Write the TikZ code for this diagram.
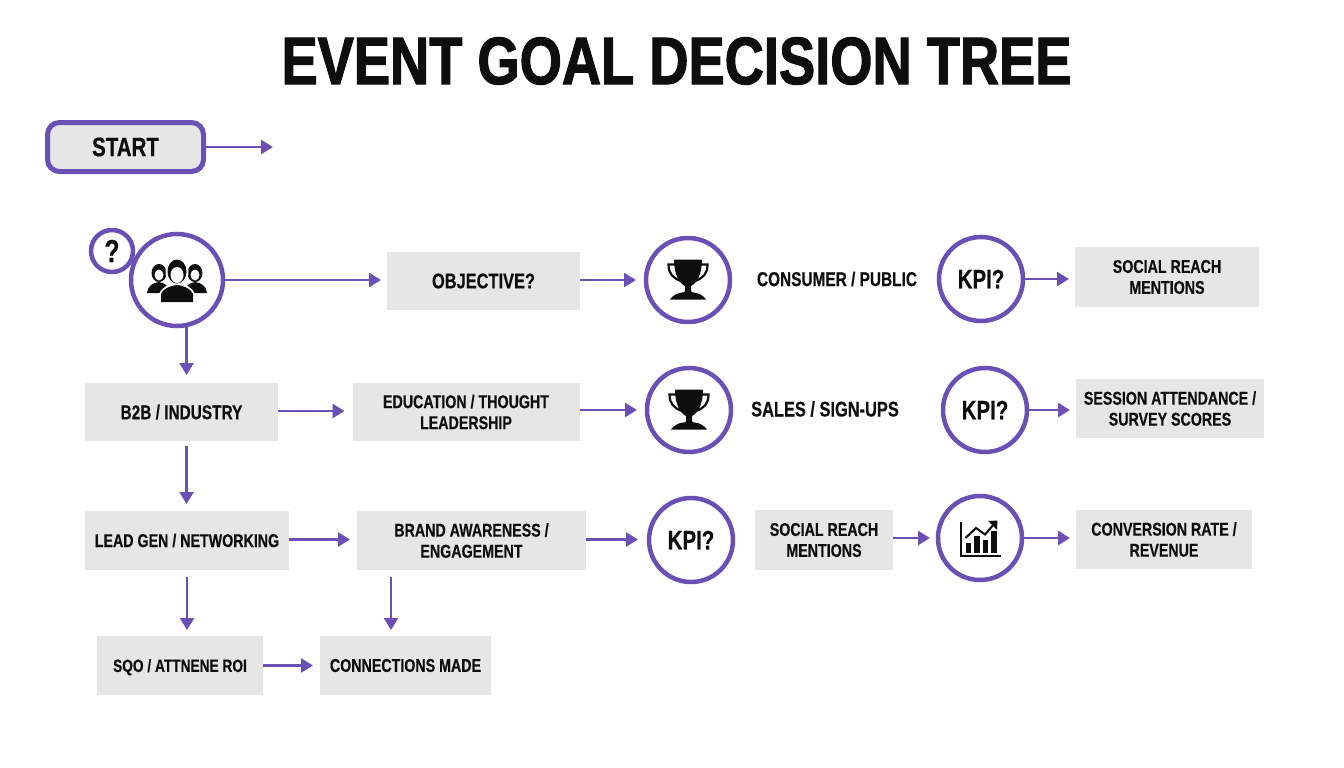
\documentclass[tikz,border=0pt]{standalone}
\usepackage{fontspec}
\setmainfont{Liberation Sans}[BoldFont={Liberation Sans Bold},BoldFeatures={FakeStretch=0.77,FakeBold=0.4}]
\newfontfamily\titlefont[FakeStretch=0.81,FakeBold=1.6]{Liberation Sans Bold}
\usetikzlibrary{arrows.meta,shapes.geometric}
\definecolor{purp}{HTML}{6A4FB5}
\definecolor{boxg}{HTML}{E6E6E7}
\definecolor{ink}{HTML}{0E0E0E}
\tikzset{
  lab/.style={font=\fontsize{18.5}{21}\selectfont\bfseries,text=ink,align=center,inner sep=0pt,outer sep=0pt},
  labw/.style={font=\fontsize{20}{21}\selectfont\bfseries},
  labx/.style={font=\fontsize{21.3}{21}\selectfont\bfseries},
  box/.style={lab,fill=boxg,draw=none},
  startbox/.style={lab,font=\fontsize{26.6}{28}\selectfont\bfseries,fill=boxg,draw=purp,line width=5pt,rounded corners=12pt,minimum width=156pt,minimum height=49pt},
  ring/.style={circle,draw=purp,line width=4.5pt,fill=white,minimum size=84pt,inner sep=0pt,outer sep=0pt,text=ink,align=center},
  kpi/.style={ring,font=\fontsize{26.6}{28}\selectfont\bfseries},
  arr/.style={draw=purp,line width=2.6pt,-{Triangle[length=12pt,width=14pt]}},
  trophy/.pic={
    \fill[ink] (-14,-20.5) -- (14,-20.5) .. controls (14,-6) and (9,3) .. (3,6) -- (3,11) .. controls (3.5,12.5) and (4,12.5) .. (6,12.5) .. controls (10,13) and (15,15) .. (18,19.5) -- (-18,19.5) .. controls (-15,15) and (-10,13) .. (-6,12.5) .. controls (-4,12.5) and (-3.5,12.5) .. (-3,11) -- (-3,6) .. controls (-9,3) and (-14,-6) .. (-14,-20.5) -- cycle;
    \draw[ink,line width=2.2pt] (-13,-15.5) -- (-19.5,-15.5) .. controls (-19.5,-6) and (-15,-2) .. (-7,1);
    \draw[ink,line width=2.2pt] (13,-15.5) -- (19.5,-15.5) .. controls (19.5,-6) and (15,-2) .. (7,1);
  },
  people/.pic={
    \fill[ink] (18,-7) ellipse (7.5 and 9);
    \fill[ink] (-18,-7) ellipse (7.5 and 9);
    \fill[ink] (30,13) .. controls (29,6) and (25,3) .. (18,2) .. controls (12,3) and (8,6) .. (8,13) -- cycle;
    \fill[ink] (-30,13) .. controls (-29,6) and (-25,3) .. (-18,2) .. controls (-12,3) and (-8,6) .. (-8,13) -- cycle;
    \fill[white] (0,-8) ellipse (11.5 and 13.5);
    \fill[white] (-18,22) -- (-18,14) .. controls (-16,8) and (-9,4) .. (0,3) .. controls (9,4) and (16,8) .. (18,14) -- (18,22) -- cycle;
    \fill[ink] (0,-8.5) ellipse (9.5 and 12);
    \fill[ink] (-16,22) -- (-16,14) .. controls (-14,9) and (-8,6) .. (0,5) .. controls (8,6) and (14,9) .. (16,14) -- (16,22) -- cycle;
    \fill[white] (0,-5) ellipse (6.5 and 8);
    \fill[white] (18,-5) ellipse (4.5 and 5.5);
    \fill[white] (-18,-5) ellipse (4.5 and 5.5);
  },
  chart/.pic={
    \draw[ink,line width=1.7pt] (-19,-16) -- (-19,18) -- (21,18);
    \fill[ink] (-14.5,5) rectangle (-9,14.5);
    \fill[ink] (-6,-2) rectangle (-0.5,14.5);
    \fill[ink] (2.5,1.5) rectangle (8,14.5);
    \fill[ink] (11,-7) rectangle (16.5,14.5);
    \draw[ink,line width=2pt] (-14.5,0) -- (-4,-10) -- (5,-3.5) -- (14,-14);
    \fill[ink] (8,-17) -- (17.5,-17.5) -- (17,-8) -- cycle;
  },
}
\begin{document}
\begin{tikzpicture}[x=1pt,y=-1pt]
\useasboundingbox[fill=white] (0,0) rectangle (1344,768);

\node[lab,font=\fontsize{67}{72}\selectfont\titlefont] (title) at (676.5,61) {EVENT GOAL DECISION TREE};

\node[startbox] (start) at (125.5,147) {START};
\coordinate (startend) at (273,147);

\node[ring,minimum size=92pt] (main) at (177,280) {};
\pic at (177,280) {people};
\node[ring,minimum size=42pt,font=\fontsize{32}{34}\selectfont\bfseries] (q) at (112,251) {?};

% Row 1
\node[box,labx,minimum width=193pt,minimum height=58pt] (objective) at (483.5,281) {OBJECTIVE?};
\node[ring] (trophyA) at (688,280) {};
\pic at (688,280) {trophy};
\node[lab,labw] (consumer) at (837,279) {CONSUMER / PUBLIC};
\node[kpi] (kpiA) at (981,279) {KPI?};
\node[box,minimum width=184pt,minimum height=60pt] (social) at (1167,277) {SOCIAL REACH\\MENTIONS};

% Row 2
\node[box,labw,text depth=0pt,minimum width=193pt,minimum height=58pt] (b2b) at (181.5,412) {B2B / INDUSTRY};
\node[box,minimum width=227pt,minimum height=58pt] (edu) at (466,412) {EDUCATION / THOUGHT\\LEADERSHIP};
\node[ring] (trophyB) at (689,410) {};
\pic at (689,410) {trophy};
\node[lab,labx] (sales) at (825,409) {SALES / SIGN-UPS};
\node[kpi] (kpiB) at (985,410) {KPI?};
\node[box,minimum width=188pt,minimum height=59pt] (session) at (1170,408.5) {SESSION ATTENDANCE /\\SURVEY SCORES};

% Row 3
\node[box,minimum width=204pt,minimum height=59pt] (lead) at (187,540.5) {LEAD GEN / NETWORKING};
\node[box,minimum width=229pt,minimum height=59pt] (brand) at (471.5,540.5) {BRAND AWARENESS /\\ENGAGEMENT};
\node[kpi] (kpiC) at (691,540) {KPI?};
\node[box,minimum width=138pt,minimum height=60pt] (socialB) at (824,540) {SOCIAL REACH\\MENTIONS};
\node[ring] (chartC) at (980,538) {};
\pic at (980,538) {chart};
\node[box,minimum width=176pt,minimum height=59pt] (conv) at (1164,539.5) {CONVERSION RATE /\\REVENUE};

% Row 4
\node[box,font=\fontsize{17.8}{21}\selectfont\bfseries,text depth=0pt,minimum width=166pt,minimum height=59pt] (sqo) at (180,665.5) {SQO / ATTNENE ROI};
\node[box,minimum width=171pt,minimum height=59pt] (conn) at (405.5,665.5) {CONNECTIONS MADE};

% Connectors
\draw[arr] (start.east) -- (startend);
\draw[arr,shorten >=6pt] (main.east) -- (main.east -| objective.west);
\draw[arr,shorten >=10pt] (objective.east |- trophyA.west) -- (trophyA.west);
\draw[arr,shorten >=6pt] (kpiA.east) -- (kpiA.east -| social.west);

\draw[arr,shorten >=8pt] (main.282) -- (main.282 |- b2b.north);
\draw[arr,shorten >=8pt] ([yshift=1pt]b2b.east) -- ([yshift=1pt]edu.west);
\draw[arr,shorten >=10pt] (edu.east |- trophyB.west) -- (trophyB.west);
\draw[arr,shorten >=6pt] (kpiB.east) -- (kpiB.east -| session.west);

\draw[arr,shorten <=5pt,shorten >=7pt] (main.282 |- b2b.south) -- (main.282 |- lead.north);
\draw[arr,shorten >=7pt] ([yshift=1pt]lead.east) -- ([yshift=1pt]brand.west);
\draw[arr,shorten >=11pt] ([yshift=1pt]brand.east) -- ([yshift=1pt]brand.east -| kpiC.west);
\draw[arr,shorten >=8pt] (socialB.east |- chartC.west) -- (chartC.west);
\draw[arr,shorten >=6pt] (chartC.east) -- (chartC.east -| conv.west);

\draw[arr,shorten <=7pt,shorten >=6pt] (lead.south) -- (lead.south |- sqo.north);
\draw[arr,shorten <=7pt,shorten >=6pt] ([xshift=-80.5pt]brand.south) -- ([xshift=-80.5pt]brand.south |- conn.north);
\draw[arr,shorten >=7pt] (sqo.east) -- (conn.west);
\end{tikzpicture}
\end{document}
